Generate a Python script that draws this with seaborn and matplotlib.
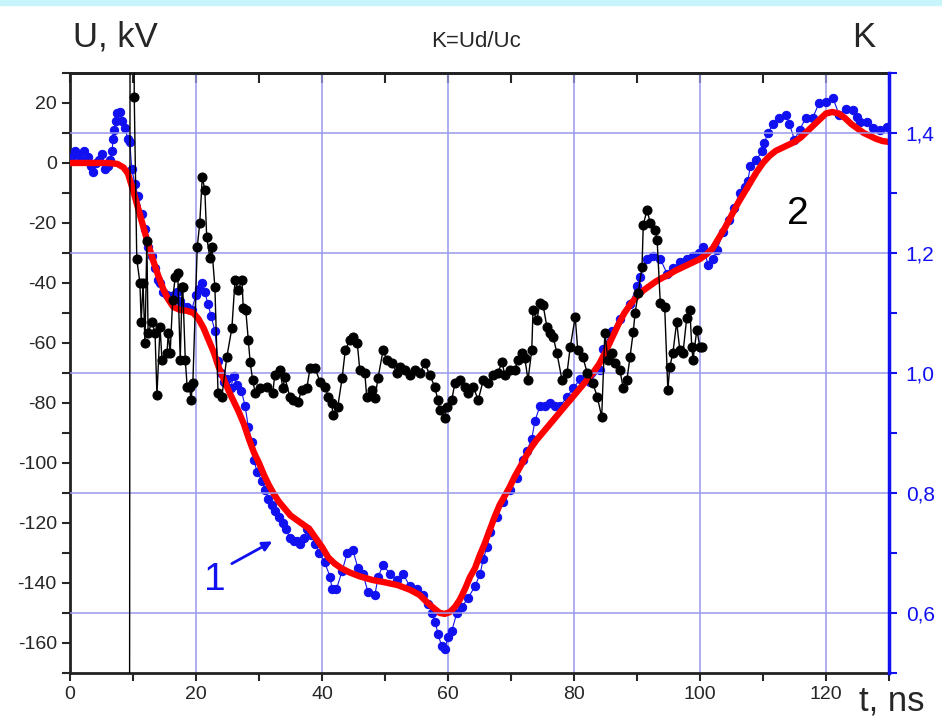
import numpy as np
import pandas as pd
import matplotlib
matplotlib.use("Agg")
from matplotlib import pyplot as plt
from matplotlib.ticker import MultipleLocator, FuncFormatter, NullFormatter
from matplotlib.patches import Rectangle
import seaborn as sns

sns.set_style("ticks")
plt.rcParams['font.family'] = ['Liberation Sans', 'DejaVu Sans']
plt.rcParams['axes.unicode_minus'] = False

# curve 2 (smooth, red): t [ns], U [kV]
red_t = [0, 2, 4, 6, 7.5, 8.5, 9.2, 10, 10.8, 11.6, 12.4, 13.2, 14, 14.8, 15.6, 16.4, 17.5, 18.6,
         19.6, 20.4, 21.2, 22, 22.8, 23.6, 24.4, 25.2, 26, 26.8, 27.6, 28.4, 29.2, 30, 30.8, 31.6,
         32.4, 33.2, 34, 35, 36, 37, 38, 39, 40, 41, 42, 43, 44.4, 46, 48, 50, 52, 54, 55.5, 56.7,
         57.8, 58.7, 59.5, 60.3, 61.1, 61.9, 62.7, 63.5, 64.3, 65, 65.8, 66.6, 67.4, 68.2, 69, 69.8,
         70.6, 71.4, 72.2, 73, 74, 75, 76, 77, 78, 79, 80, 81, 82, 83, 84, 85, 86, 87, 88, 89, 90,
         91, 92, 93, 94, 95, 96, 97, 98, 99, 100, 101, 102, 103, 104, 105, 106, 107, 108, 109, 110,
         111, 112, 113, 114, 115, 116, 117, 118, 119, 120, 121, 122, 123, 124, 125, 126, 127, 128,
         129, 130]
red_u = [0, 0, 0, 0, -0.3, -1.5, -3.5, -9, -15, -21, -27, -32.5, -37.5, -42, -45.5, -48, -49, -49.3,
         -50, -52, -55, -59, -63, -68, -72, -76, -79.5, -83, -87, -92, -96.5, -100, -104, -107.5,
         -110.5, -113, -115, -117.5, -119, -120.5, -122, -125, -128, -131.5, -133.5, -135, -136.5,
         -137.8, -139, -139.8, -140.7, -142.3, -144, -146.5, -148.5, -150, -150.3, -149.7, -148,
         -145.5, -142, -138, -135, -131, -127, -122.5, -118, -114, -111, -108, -104.5, -101.5,
         -98.5, -95.5, -92.5, -90, -87.5, -85, -82.5, -80, -77.5, -75, -72.5, -70, -67, -63, -58.5,
         -54, -50, -47, -44.5, -42.5, -41, -39.5, -38.3, -37.3, -36, -35, -34, -33, -32, -30.5,
         -28.5, -25, -21.5, -17.5, -13.5, -10, -6.5, -3, 0, 2.3, 4, 5, 6, 7, 8.5, 10.5, 12.5, 14.5,
         16.5, 17, 16.5, 15, 13, 11.5, 10, 9, 8, 7.3, 7]

# curve 1 (measured, blue dots): t [ns], U [kV]
blue_t = [0.3, 0.8, 1.3, 1.8, 2.3, 2.8, 3.3, 3.6, 4.1, 4.6, 5.1, 5.6, 6.0, 6.3, 6.7, 6.8, 7.0, 7.3,
          7.5, 7.9, 8.3, 8.7, 9.2, 9.5, 9.8, 10.3, 10.8, 11.4, 11.9, 12.4, 13.0, 13.5, 14.0, 14.3,
          14.8, 15.4, 15.9, 16.5, 17.0, 17.5, 18.0, 18.6, 19.3, 20.0, 20.4, 20.9, 21.4, 21.9, 22.4,
          23.0, 23.5, 24.0, 24.5, 25.0, 25.5, 26.0, 26.5, 27.2, 27.8, 28.3, 28.9, 29.2, 29.7, 30.5,
          31.0, 31.5, 32.0, 32.5, 33.2, 33.8, 34.3, 34.9, 35.5, 36.0, 36.5, 37.1, 37.7, 38.3, 38.9,
          39.6, 40.4, 41.3, 41.6, 42.3, 43.2, 44.0, 44.9, 45.7, 46.5, 47.3, 48.4, 48.9, 49.7, 50.8,
          51.9, 52.9, 53.9, 55.1, 56.0, 56.8, 57.5, 58.0, 58.4, 59.0, 59.5, 60.0, 60.6, 61.4, 62.2,
          63.2, 64.3, 65.1, 65.6, 66.2, 66.7, 67.8, 68.7, 69.8, 70.9, 71.9, 72.5, 73.3, 73.8, 74.6,
          75.4, 76.2, 77.0, 77.8, 78.9, 79.9, 81.0, 82.5, 84.1, 84.6, 86.0, 87.3, 88.9, 90.0, 90.5,
          91.6, 92.6, 93.7, 94.8, 95.7, 96.8, 97.9, 98.9, 99.8, 100.5, 101.3, 102.1, 102.7, 103.7,
          104.6, 105.4, 106.3, 107.1, 107.6, 108.0, 108.9, 109.9, 110.2, 110.8, 111.6, 112.6, 113.7,
          114.2, 115.0, 115.8, 116.8, 117.9, 118.9, 120.0, 121.1, 122.1, 123.2, 124.3, 124.9, 125.4,
          126.5, 127.5, 128.6, 129.7]
blue_u = [2, 4, 3, 1, 4, 2, -1, -3, 0, 1, 3, -2, -1, 1, 4, 8, 11, 14, 16.7, 17, 14, 11.7, 8, 7, -2,
          -7, -11, -17, -22, -28, -31, -35, -39, -40, -43, -44, -45, -44, -43, -46, -48, -48, -49,
          -44, -42, -40, -43, -47, -51, -56, -66, -70, -73, -72, -75, -71, -74, -76, -81, -88, -93,
          -99, -103, -106, -109, -112, -114, -116, -118, -120, -122, -125, -126, -126, -127, -125,
          -122, -124, -127, -130, -133, -138, -142, -142, -136, -130, -129, -135, -137, -143, -144,
          -138, -134, -137, -139, -137, -141, -142, -144, -147, -150, -153, -157, -161, -162, -158,
          -156, -150, -148, -145, -141, -137, -132, -128, -123, -118, -113, -109, -105, -99, -96,
          -92, -86, -81, -81, -80, -81, -81, -78, -75, -72, -73, -69, -62, -56, -52, -47, -41, -38,
          -32, -31, -32, -37, -35, -33, -32, -31, -30, -28, -34, -32, -29, -23, -19, -15, -10, -8,
          -6, -1, 1, 4, 6.7, 10, 13, 15, 16, 13, 7.7, 11, 15, 15, 20, 20.3, 21.7, 16, 18, 17.7, 15.3,
          13.7, 13.7, 11.7, 11, 12]

# K = Ud/Uc (black dots), right axis
k_t = [9.45, 9.55, 10.1, 10.2, 10.6, 11.1, 11.3, 11.6, 11.9, 12.2, 12.4, 13.0, 13.5, 13.8, 14.3, 14.6,
       15.4, 15.6, 15.9, 16.3, 16.7, 17.1, 17.5, 17.8, 17.9, 18.3, 18.6, 19.0, 19.2, 19.5, 20.2,
       20.6, 21.0, 21.4, 21.7, 22.2, 22.5, 23.0, 23.5, 24.1, 24.9, 25.7, 26.2, 26.7, 27.3, 27.5,
       27.9, 28.3, 28.6, 29.0, 29.4, 30.2, 31.3, 32.2, 32.5, 33.3, 33.8, 34.1, 34.9, 35.4, 36.2,
       36.8, 37.6, 38.1, 38.9, 39.7, 40.5, 41.0, 41.6, 41.7, 42.5, 43.2, 43.7, 44.4, 44.9, 45.6,
       46.0, 46.8, 47.1, 47.9, 48.4, 48.9, 49.7, 50.3, 51.1, 51.9, 52.4, 53.2, 54.0, 54.8, 55.6,
       56.3, 57.1, 57.9, 58.4, 58.7, 59.5, 59.8, 60.6, 61.1, 61.9, 62.7, 63.2, 64.0, 64.8, 65.6,
       66.3, 67.1, 67.9, 68.6, 69.0, 69.8, 70.6, 71.1, 71.7, 72.2, 72.7, 73.3, 73.5, 74.1, 74.6,
       75.1, 75.7, 76.2, 76.7, 77.3, 78.1, 78.9, 79.4, 80.2, 80.6, 81.4, 82.1, 83.0, 83.7, 84.4,
       84.9, 85.4, 86.0, 86.5, 87.3, 87.8, 88.4, 88.9, 89.4, 89.7, 90.2, 90.8, 91.0, 91.6, 92.1,
       92.9, 93.2, 93.7, 94.4, 94.9, 95.2, 95.7, 96.3, 96.8, 97.3, 97.9, 98.4, 98.7, 98.9, 99.5,
       100.0, 100.3]
k_val = [0.3, 1.8, 1.8, 1.46, 1.19, 1.15, 1.085, 1.15, 1.05, 1.22, 1.067, 1.085, 1.067, 0.963,
         1.077, 1.022, 1.033, 1.067, 1.033, 1.122, 1.16, 1.167, 1.022, 1.143, 1.143, 1.022, 0.977,
         0.977, 0.955, 0.983, 1.21, 1.25, 1.327, 1.305, 1.227, 1.192, 1.21, 1.143, 0.967, 0.96,
         1.027, 1.075, 1.155, 1.138, 1.155, 1.108, 1.105, 1.055, 1.018, 0.988, 0.967, 0.975, 0.977,
         0.967, 0.997, 1.005, 0.975, 0.993, 0.96, 0.955, 0.952, 0.972, 0.975, 1.008, 1.008, 0.985,
         0.977, 0.96, 0.95, 0.93, 0.943, 0.992, 1.038, 1.055, 1.06, 1.05, 1.005, 1.0, 0.96, 0.972,
         0.958, 0.992, 1.038, 1.022, 1.017, 1.0, 1.01, 1.005, 0.997, 1.005, 1.0, 1.017, 0.997,
         0.977, 0.955, 0.938, 0.925, 0.943, 0.955, 0.983, 0.988, 0.977, 0.967, 0.977, 0.955, 0.988,
         0.983, 0.997, 1.0, 1.018, 0.997, 1.005, 1.005, 1.022, 1.033, 1.025, 0.988, 1.038, 1.105,
         1.088, 1.117, 1.113, 1.077, 1.067, 1.06, 1.033, 0.988, 1.0, 1.043, 1.093, 1.038, 1.027,
         1.0, 0.983, 0.96, 0.927, 1.067, 1.022, 1.033, 1.017, 1.005, 0.975, 0.988, 1.027, 1.068,
         1.1, 1.133, 1.177, 1.247, 1.272, 1.25, 1.238, 1.222, 1.117, 1.11, 0.972, 1.01, 1.033,
         1.085, 1.038, 1.033, 1.092, 1.105, 1.043, 1.022, 1.072, 1.043, 1.043]

blue_c = '#1010f0'
grid_c = '#9999ee'

fig = plt.figure(figsize=(9.42, 7.21), dpi=100)
fig.patches.append(Rectangle((0, 0.993), 1, 0.007, transform=fig.transFigure,
                             color='#c8f4fc', zorder=0))
ax = fig.add_axes([0.0743, 0.0666, 0.8694, 0.8322])
ax2 = ax.twinx()

red = pd.DataFrame({'t': red_t, 'U': red_u})
blue = pd.DataFrame({'t': blue_t, 'U': blue_u})
black = pd.DataFrame({'t': k_t, 'K': k_val})

sns.lineplot(data=blue, x='t', y='U', ax=ax, color=blue_c, lw=0.8, marker='o', ms=6,
             mec=blue_c, estimator=None, sort=False, zorder=3)
sns.lineplot(data=red, x='t', y='U', ax=ax, color='#ff0000', lw=4.6, estimator=None,
             sort=False, zorder=4)
sns.lineplot(data=black, x='t', y='K', ax=ax2, color='black', lw=1.0, marker='o', ms=6.5,
             mec='black', estimator=None, sort=False, zorder=3)

ax.set_xlim(0, 130)
ax.set_ylim(-170, 30)
ax2.set_ylim(0.5, 1.5)

ax.set_xticks(np.arange(0, 121, 20))
ax.xaxis.set_minor_locator(MultipleLocator(10))
ax.set_yticks(np.arange(-160, 21, 20))
ax.yaxis.set_minor_locator(MultipleLocator(10))
ax2.set_yticks([0.6, 0.8, 1.0, 1.2, 1.4])
ax2.yaxis.set_minor_locator(MultipleLocator(0.1))
ax2.yaxis.set_major_formatter(FuncFormatter(lambda v, p: f"{v:.1f}".replace('.', ',')))

ax.tick_params(axis='both', which='major', labelsize=14, length=6, width=1.5, direction='out')
ax.tick_params(axis='both', which='minor', length=6, width=1.5, direction='out')
ax2.tick_params(axis='y', which='both', colors=blue_c, labelsize=15, length=6, width=1.5, pad=6)

top = ax.secondary_xaxis('top')
top.set_xticks(np.arange(0, 121, 20))
top.xaxis.set_minor_locator(MultipleLocator(10))
top.xaxis.set_major_formatter(NullFormatter())
top.tick_params(axis='x', which='both', direction='in', length=7, width=1.5)
top.spines['top'].set_linewidth(2)
top.spines['top'].set_color('#222222')

ax.set_xlabel('')
ax.set_ylabel('')
ax2.set_ylabel('')

ax.grid(axis='x', color=grid_c, lw=1.1)
ax2.grid(axis='y', color=grid_c, lw=1.1)
ax.set_axisbelow(True)
ax2.set_axisbelow(True)

for s in ['left', 'bottom', 'top']:
    ax.spines[s].set_linewidth(2)
    ax.spines[s].set_color('#222222')
ax2.spines['right'].set_color(blue_c)
ax2.spines['right'].set_linewidth(2.5)
for s in ['left', 'bottom', 'top']:
    ax2.spines[s].set_visible(False)

fig.text(0.077, 0.935, 'U, kV', fontsize=25)
fig.text(0.905, 0.935, 'K', fontsize=25)
fig.text(0.505, 0.935, 'K=Ud/Uc', fontsize=16, ha='center')
fig.text(0.912, 0.015, 't, ns', fontsize=25)

ax.annotate('', xy=(32.5, -125.7), xytext=(25.3, -134),
            arrowprops=dict(arrowstyle='-|>', color=blue_c, lw=2, mutation_scale=14))
ax.text(23, -139, '1', color=blue_c, fontsize=28, ha='center', va='center')
ax.text(115.5, -17, '2', color='black', fontsize=28, ha='center', va='center')

fig.savefig('out.png', dpi=100)
